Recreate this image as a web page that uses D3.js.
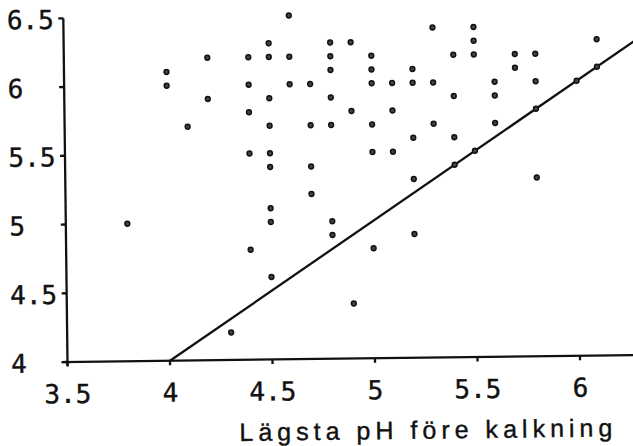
<!DOCTYPE html>
<html>
<head>
<meta charset="utf-8">
<script src="https://cdn.jsdelivr.net/npm/d3@7"></script>
<style>
  html, body { margin: 0; padding: 0; background: #fff; }
  svg { display: block; }
</style>
</head>
<body>
<svg id="chart" width="633" height="446"></svg>
<script>
// Lowest pH before liming (x) and pH afterwards (y), one entry per site
const lagstaPh = [3.8, 4.0, 4.0, 4.1, 4.2, 4.2, 4.3, 4.4, 4.4, 4.4, 4.4, 4.4,
  4.5, 4.5, 4.5, 4.5, 4.5, 4.5, 4.5, 4.5, 4.5, 4.6, 4.6, 4.6, 4.7, 4.7, 4.7, 4.7,
  4.8, 4.8, 4.8, 4.8, 4.8, 4.8, 4.8, 4.9, 4.9, 4.9, 5.0, 5.0, 5.0, 5.0, 5.0, 5.0,
  5.1, 5.1, 5.1, 5.2, 5.2, 5.2, 5.2, 5.2, 5.3, 5.3, 5.3, 5.4, 5.4, 5.4, 5.4,
  5.5, 5.5, 5.5, 5.5, 5.6, 5.6, 5.6, 5.7, 5.7, 5.8, 5.8, 5.8, 5.8, 6.0, 6.1, 6.1];
const phEfter = [5.0, 6.1, 6.0, 5.7, 6.2, 5.9, 4.2, 6.2, 6.0, 5.8, 5.5, 4.8,
  6.3, 6.2, 5.9, 5.7, 5.5, 5.4, 5.1, 5.0, 4.6, 6.5, 6.2, 6.0, 6.0, 5.7, 5.4, 5.2,
  6.3, 6.2, 6.1, 5.9, 5.7, 5.0, 4.9, 6.3, 5.8, 4.4, 6.2, 6.1, 6.0, 5.7, 5.5, 4.8,
  6.0, 5.8, 5.5, 6.1, 6.0, 5.6, 5.3, 4.9, 6.4, 6.0, 5.7, 6.2, 5.9, 5.6, 5.4,
  6.4, 6.3, 6.2, 5.5, 6.0, 5.9, 5.7, 6.2, 6.1, 6.2, 6.0, 5.8, 5.3, 6.0, 6.1, 6.3];

const xTicks = [3.5, 4, 4.5, 5, 5.5, 6];
const yTicks = [4, 4.5, 5, 5.5, 6, 6.5];
const xTickLabels = ["3.5", "4", "4.5", "5", "5.5", "6"];
const yTickLabels = ["4", "4.5", "5", "5.5", "6", "6.5"];
const xTitle = "Lägsta pH före kalkning";
// Reference line: pH after equal to pH before
const refLine = [4, 6.4];

const x = d3.scaleLinear().domain([3.5, 6]).range([67.5, 580]);
const y = d3.scaleLinear().domain([4, 6]).range([362, 87]);

const svg = d3.select("#chart");
svg.append("rect").attr("width", 633).attr("height", 446).attr("fill", "#fff");

// whole drawing sits slightly turned on the page
const g = svg.append("g")
  .attr("transform", `rotate(-0.7, ${x(3.5)}, ${y(4)})`);

const ink = "#111";
const tickFont = "'DejaVu Sans Mono', 'Liberation Mono', monospace";

// x axis line and ticks
g.append("line")
  .attr("x1", x(3.5) - 6).attr("x2", 660)
  .attr("y1", y(4)).attr("y2", y(4))
  .attr("stroke", ink).attr("stroke-width", 2.3);
g.selectAll(".xtick").data(xTicks).join("line")
  .attr("class", "xtick")
  .attr("x1", d => x(d)).attr("x2", d => x(d))
  .attr("y1", y(4)).attr("y2", y(4) + 4.5)
  .attr("stroke", ink).attr("stroke-width", 2.3);
g.selectAll(".xlab").data(xTicks).join("text")
  .attr("class", "xlab")
  .attr("x", d => x(d)).attr("y", 403)
  .attr("text-anchor", "middle")
  .attr("font-family", tickFont).attr("font-size", 26)
  .attr("fill", ink).attr("stroke", ink).attr("stroke-width", 0.4)
  .text((d, i) => xTickLabels[i]);

// y axis line and ticks
g.append("line")
  .attr("x1", x(3.5)).attr("x2", x(3.5))
  .attr("y1", y(4) + 4).attr("y2", y(6.5))
  .attr("stroke", ink).attr("stroke-width", 2.3);
g.selectAll(".ytick").data(yTicks).join("line")
  .attr("class", "ytick")
  .attr("x1", x(3.5) - 5).attr("x2", x(3.5))
  .attr("y1", d => y(d)).attr("y2", d => y(d))
  .attr("stroke", ink).attr("stroke-width", 2.3);
g.selectAll(".ylab").data(yTicks).join("text")
  .attr("class", "ylab")
  .attr("x", 11).attr("y", d => y(d))
  .attr("dy", "0.4em")
  .attr("text-anchor", "start")
  .attr("font-family", tickFont).attr("font-size", 26)
  .attr("fill", ink).attr("stroke", ink).attr("stroke-width", 0.4)
  .text((d, i) => yTickLabels[i]);

// x axis title
g.append("text")
  .attr("x", 425).attr("y", 443)
  .attr("text-anchor", "middle")
  .attr("font-family", "'Liberation Sans', Arial, sans-serif")
  .attr("font-size", 25)
  .attr("textLength", 373).attr("lengthAdjust", "spacing")
  .attr("fill", ink)
  .attr("stroke", ink).attr("stroke-width", 0.4)
  .text(xTitle);

// reference line y = x
g.append("line")
  .attr("x1", x(refLine[0])).attr("y1", y(refLine[0]))
  .attr("x2", x(refLine[1])).attr("y2", y(refLine[1]))
  .attr("stroke", ink).attr("stroke-width", 2.3);

// sites
g.selectAll(".dot").data(lagstaPh).join("circle")
  .attr("class", "dot")
  .attr("cx", (d, i) => x(d))
  .attr("cy", (d, i) => y(phEfter[i]))
  .attr("r", 2.4)
  .attr("fill", "#444")
  .attr("stroke", ink).attr("stroke-width", 1.5);
</script>
</body>
</html>
